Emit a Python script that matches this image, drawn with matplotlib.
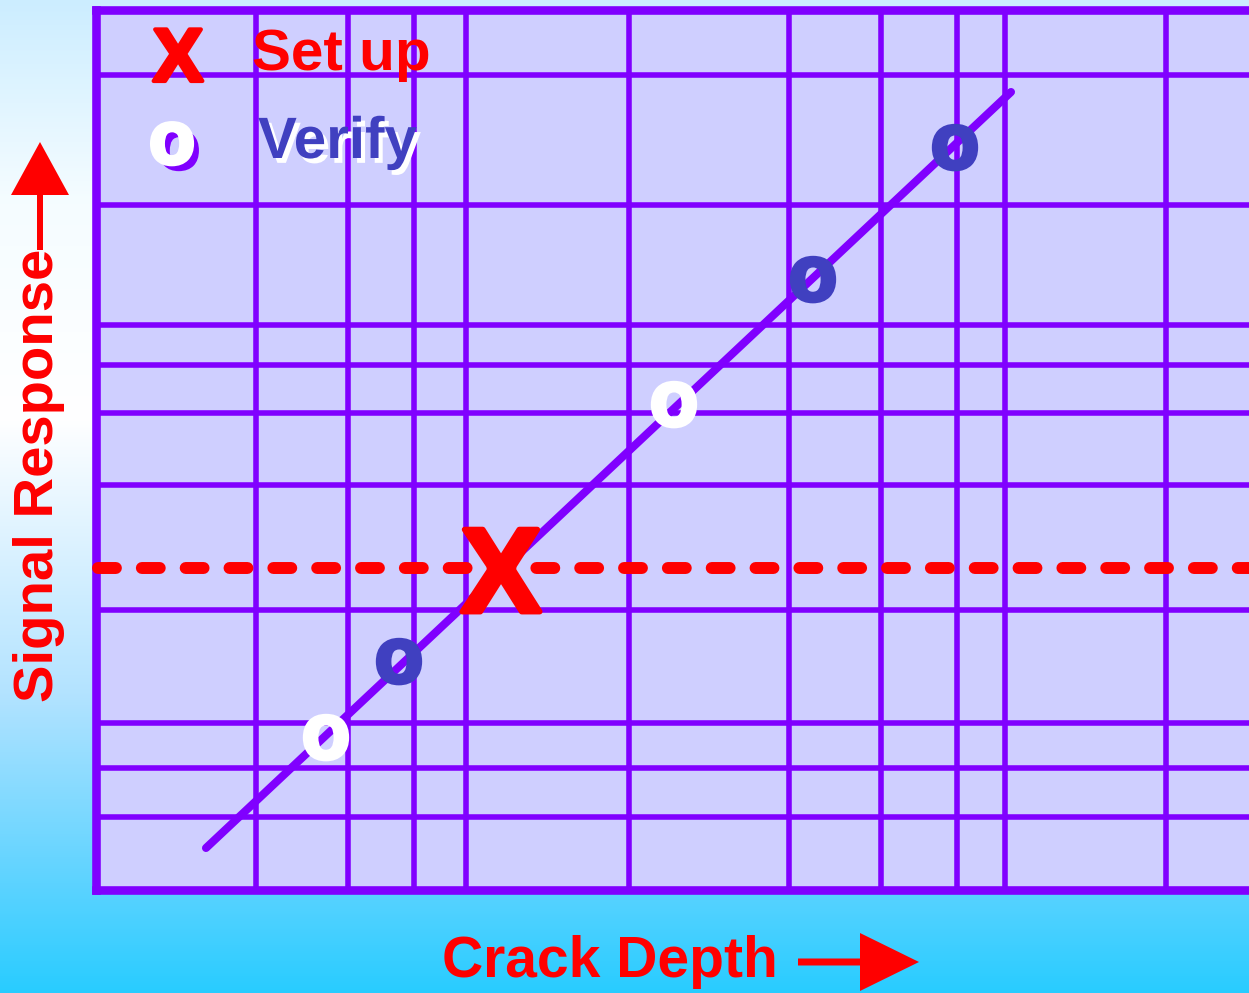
import numpy as np
import matplotlib
matplotlib.use("Agg")
import matplotlib.pyplot as plt
import matplotlib.patheffects as pe
from matplotlib.patches import FancyArrow

plt.rcParams['font.family'] = ['Liberation Sans', 'DejaVu Sans']
plt.rcParams['font.weight'] = 'bold'

# Rasterlinjer (dataenheter)
x_grid = [1.60, 2.52, 3.18, 3.70, 5.33, 6.93, 7.85, 8.61, 9.09, 10.70]
y_grid = [0.73, 1.22, 1.67, 2.80, 4.05, 4.77, 5.25, 5.65, 6.85, 8.15]

# Kalibreringslinje
line_x = [1.10, 9.15]
line_y = [0.42, 7.98]

# Oppsettpunkt og terskel
setup_x = [4.05]
setup_y = [3.20]
threshold = 3.22

# Verifikasjonspunkter
verify_white_x = [2.30, 5.78]
verify_white_y = [1.52, 4.85]
verify_blue_x = [3.03, 7.17, 8.59]
verify_blue_y = [2.28, 6.10, 7.42]

W, H = 1249, 993
purple = '#8000FF'
blue = '#4040C0'

fig = plt.figure(figsize=(W / 100, H / 100), dpi=100)

# Bakgrunn med gradient
bg = fig.add_axes([0, 0, 1, 1], zorder=-5)
stops = np.array([0.0, 0.2, 0.42, 0.70, 0.88, 1.0])
cols = np.array([
    [0.80, 0.93, 1.00],
    [0.96, 0.99, 1.00],
    [1.00, 1.00, 1.00],
    [0.70, 0.89, 1.00],
    [0.38, 0.83, 1.00],
    [0.16, 0.80, 1.00],
])
t = np.linspace(0, 1, 400)
grad = np.stack([np.interp(t, stops, cols[:, i]) for i in range(3)], axis=1)
bg.imshow(grad[:, None, :], aspect='auto', extent=[0, 1, 1, 0])
bg.axis('off')

# Hovedakse
ax = fig.add_axes([96 / W, (H - 890) / H, (W - 96) / W, (890 - 10) / H])
ax.set_xlim(0, 11.53)
ax.set_ylim(0, 8.80)
ax.set_facecolor('#CFCFFF')
for side in ['left', 'top', 'bottom']:
    ax.spines[side].set_color(purple)
    ax.spines[side].set_linewidth(6.2)
ax.spines['right'].set_visible(False)
ax.set_xticks(x_grid)
ax.set_yticks(y_grid)
ax.tick_params(length=0, labelbottom=False, labelleft=False)
ax.set_axisbelow(True)
ax.grid(True, color=purple, lw=4)

ax.plot(line_x, line_y, color=purple, lw=5.8, solid_capstyle='round', zorder=3)

xmin, xmax = ax.get_xlim()
ax.plot([xmin + 0.02, xmax], [threshold, threshold], color='red', lw=8.6,
        dashes=(1.5, 2.17), dash_capstyle='round', clip_on=False, zorder=2.7)


def thick(c, w=3):
    return [pe.withStroke(linewidth=w, foreground=c)]


for x, y in zip(setup_x, setup_y):
    ax.annotate('X', xy=(x, y), xytext=(0, -30), textcoords='offset points',
                ha='center', va='baseline', fontsize=86, color='red', zorder=6,
                path_effects=thick('red', 4))
for x, y in zip(verify_white_x, verify_white_y):
    ax.text(x, y, 'o', ha='center', va='center', fontsize=57, color='white',
            zorder=6, path_effects=thick('white'))
for x, y in zip(verify_blue_x, verify_blue_y):
    ax.text(x, y, 'o', ha='center', va='center', fontsize=57, color=blue,
            zorder=6, path_effects=thick(blue))

# Overlegg i pikselkoordinater for tekst og piler
ov = fig.add_axes([0, 0, 1, 1], zorder=10)
ov.set_xlim(0, W)
ov.set_ylim(H, 0)
ov.axis('off')

ov.text(178, 81, 'X', fontsize=54, color='red', ha='center', va='baseline',
        path_effects=thick('red', 3))
ov.text(252, 70, 'Set up', fontsize=42, color='red', ha='left', va='baseline')
ov.text(172, 144, 'o', fontsize=54, color='white', ha='center', va='center',
        path_effects=[pe.SimplePatchShadow(offset=(5, -5), shadow_rgbFace=purple,
                                           alpha=1.0),
                      pe.withStroke(linewidth=3, foreground='white')])
ov.text(258, 158, 'Verify', fontsize=42, color=blue, ha='left', va='baseline',
        path_effects=[pe.SimplePatchShadow(offset=(3, -3.5), shadow_rgbFace='white',
                                           alpha=1.0),
                      pe.Normal()])

ov.text(610, 977, 'Crack Depth', fontsize=41, color='red', ha='center', va='baseline')
ov.text(53, 475, 'Signal Response', fontsize=40.5, color='red', rotation=90,
        rotation_mode='anchor', ha='center', va='baseline')

ov.add_patch(FancyArrow(40, 250, 0, -108, width=6, head_width=58, head_length=53,
                        length_includes_head=True, color='red', lw=0))
ov.add_patch(FancyArrow(798, 962, 121, 0, width=7, head_width=58, head_length=59,
                        length_includes_head=True, color='red', lw=0))

fig.savefig('out.png', dpi=100)
